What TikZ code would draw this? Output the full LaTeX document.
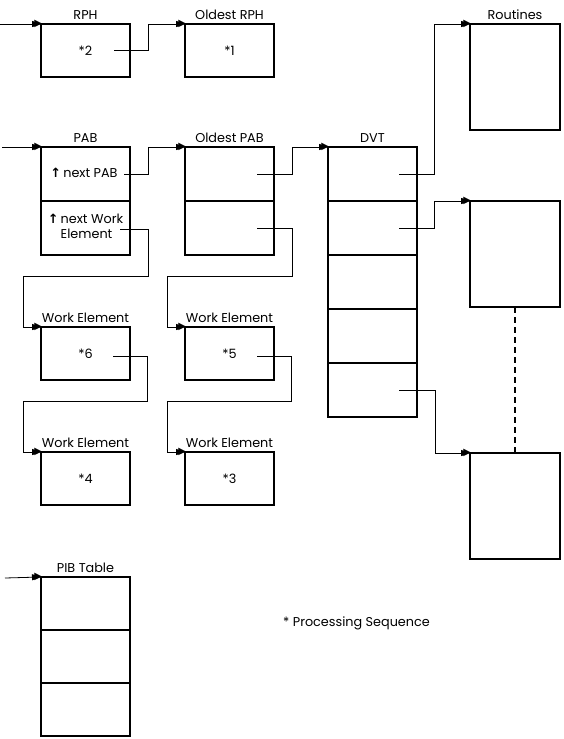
\documentclass[tikz,border=0pt]{standalone}
\usepackage{fontspec}
\setmainfont{Poppins}
\newfontfamily\arrowfont{DejaVu Sans}
\newcommand\figfont{\fontsize{12.8}{15.5}\selectfont}
\usetikzlibrary{arrows.meta, positioning}

\begin{document}
\begin{tikzpicture}[x=1pt, y=1pt,
    box/.style={draw, line width=1.3pt, minimum width=89pt, minimum height=53pt,
        inner sep=0pt, outer sep=0pt, anchor=north west, font=\figfont},
    rowbox/.style={box, minimum height=54pt},
    tallbox/.style={box, minimum width=90pt, minimum height=106pt},
    title/.style={font=\figfont, inner sep=1pt, label distance=3pt},
    ptrline/.style={line width=0.8pt, -{Triangle[length=9pt,width=6pt]}},
    headtip/.style={font=\arrowfont\fontsize{10}{10}\selectfont, inner sep=0pt, outer sep=0pt, anchor=east, xshift=1pt},
    dashline/.style={line width=1.2pt, dash pattern=on 6pt off 4pt},
]
    \useasboundingbox (0,0) rectangle (564,-739);

    % request headers
    \node[box, label={[title]above:RPH}] (rph) at (41,-24) {*2};
    \node[box, label={[title]above:Oldest RPH}] (oldrph) at (185,-24) {*1};

    % PAB and oldest PAB
    \node[rowbox, label={[title]above:PAB}] (pab1) at (41,-147)
        {\begin{tabular}{@{}l@{\,}l@{}}{\arrowfont\bfseries ↑}&next PAB\hspace*{3pt}\end{tabular}};
    \node[rowbox, below=0pt of pab1] (pab2)
        {\begin{tabular}{@{}l@{\,}l@{}}{\arrowfont\bfseries ↑}&next Work\\&Element\end{tabular}};
    \node[rowbox, label={[title]above:Oldest PAB}] (oldpab1) at (185,-147) {};
    \node[rowbox, below=0pt of oldpab1] (oldpab2) {};

    % DVT
    \node[rowbox, label={[title]above:DVT}] (dvt1) at (328,-147) {};
    \foreach \i [count=\j from 2] in {1,...,4}
        \node[rowbox, below=0pt of dvt\i] (dvt\j) {};

    % routines
    \node[tallbox, label={[title]above:Routines}] (rtn1) at (470,-24) {};
    \node[tallbox] (rtn2) at (470,-201) {};
    \node[tallbox] (rtn3) at (470,-453) {};

    % work elements
    \node[box, label={[title]above:Work Element}] (wk6) at (41,-327) {*6};
    \node[box, label={[title]above:Work Element}] (wk4) at (41,-452) {*4};
    \node[box, label={[title]above:Work Element}] (wk5) at (185,-327) {*5};
    \node[box, label={[title]above:Work Element}] (wk3) at (185,-452) {*3};

    % PIB table
    \node[box, label={[title]above:PIB Table}] (pib1) at (41,-577) {};
    \node[box, below=0pt of pib1] (pib2) {};
    \node[box, below=0pt of pib2] (pib3) {};

    \node[font=\figfont, anchor=west, inner sep=0pt] (note) at (283,-623) {* Processing Sequence};

    % pointer ends
    \coordinate (rph-in) at (0,-24);
    \coordinate (pab-in) at (2,-147);
    \coordinate (pib-in) at (5,-578);
    \coordinate (rph-out) at ([xshift=-16pt]rph.east);
    \coordinate (pab-next) at ([xshift=-6pt]pab1.east);
    \coordinate (pab-work) at ([xshift=-10pt,yshift=-1pt]pab2.east);
    \coordinate (oldpab-a) at ([xshift=-17pt]oldpab1.east);
    \coordinate (oldpab-b) at ([xshift=-17pt]oldpab2.east);
    \coordinate (wk6-out) at ([xshift=-17pt,yshift=-3pt]wk6.east);
    \coordinate (wk5-out) at ([xshift=-17pt,yshift=-3pt]wk5.east);
    \coordinate (dvt-a) at ([xshift=-18pt]dvt1.east);
    \coordinate (dvt-b) at ([xshift=-18pt]dvt2.east);
    \coordinate (dvt-e) at ([xshift=-18pt]dvt5.east);

    \draw[ptrline] (rph-in) -- (rph.north west);
    \draw[ptrline] (pab-in) -- (pab1.north west);
    \draw[ptrline] (pib-in) -- (pib1.north west);

    \draw[ptrline] (rph-out) -| ([xshift=-37pt]oldrph.north west) -- (oldrph.north west);
    \draw[ptrline] (pab-next) -| ([xshift=-37pt]oldpab1.north west) -- (oldpab1.north west);
    \draw[ptrline] (oldpab-a) -| ([xshift=-36pt]dvt1.north west) -- (dvt1.north west);

    % work element chains
    \draw[ptrline] (pab-work) -| ([xshift=18pt,yshift=-21pt]pab2.south east)
        -| ([xshift=-18pt]wk6.north west) -- (wk6.north west);
    \draw[ptrline] (wk6-out) -| ([xshift=17pt,yshift=-21pt]wk6.south east)
        -| ([xshift=-18pt]wk4.north west) -- (wk4.north west);
    \draw[ptrline] (oldpab-b) -| ([xshift=18pt,yshift=-21pt]oldpab2.south east)
        -| ([xshift=-18pt]wk5.north west) -- (wk5.north west);
    \draw[ptrline] (wk5-out) -| ([xshift=17pt,yshift=-21pt]wk5.south east)
        -| ([xshift=-18pt]wk3.north west) -- (wk3.north west);

    % DVT entries to routines
    \draw[ptrline] (dvt-a) -| ([xshift=-36pt]rtn1.north west) -- (rtn1.north west);
    \draw[ptrline] (dvt-b) -| ([xshift=-36pt]rtn2.north west) -- (rtn2.north west);
    \draw[ptrline] (dvt-e) -| ([xshift=-35pt]rtn3.north west) -- (rtn3.north west);
    \draw[dashline] (rtn2.south) -- (rtn3.north);

    % arrow heads
    \foreach \tgt in {rph, pab1, pib1, oldrph, oldpab1, dvt1, wk6, wk4, wk5, wk3, rtn1, rtn2, rtn3}
        \node[headtip] (head-\tgt) at (\tgt.north west) {▶};
\end{tikzpicture}
\end{document}
